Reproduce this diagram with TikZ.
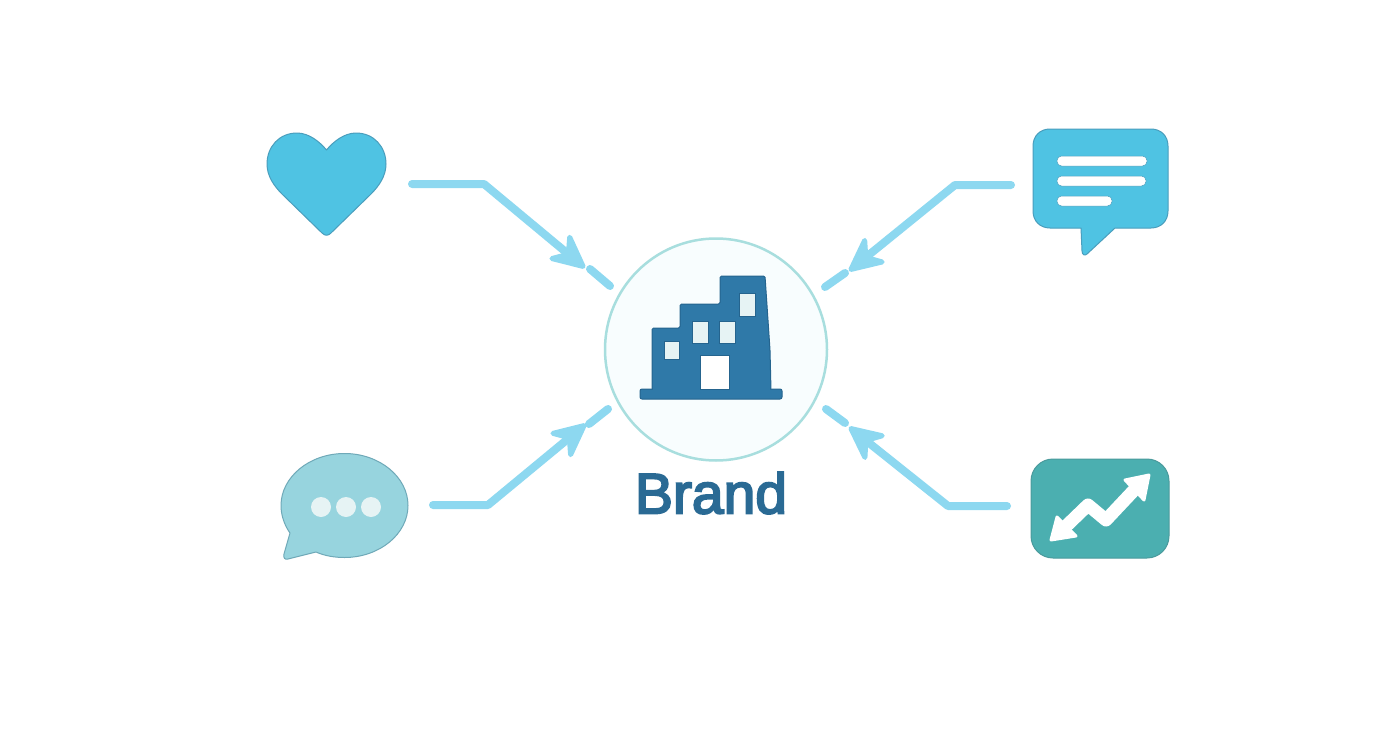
\documentclass[tikz,border=0pt]{standalone}
\usepackage{fontspec}
\usepackage{tikz}
\usetikzlibrary{positioning,arrows.meta}
\newfontfamily\brandfont{Liberation Sans}[FakeBold=3.5]

\definecolor{linkblue}{HTML}{8DD8F0}
\definecolor{skyfill}{HTML}{4FC3E3}
\definecolor{skyedge}{HTML}{4A9EBD}
\definecolor{tealfill}{HTML}{4BAFB0}
\definecolor{tealedge}{HTML}{4A9A9C}
\definecolor{palefill}{HTML}{97D4DE}
\definecolor{paleedge}{HTML}{6FA9B8}
\definecolor{ringedge}{HTML}{A8DEDE}
\definecolor{ringfill}{HTML}{F8FDFE}
\definecolor{blockfill}{HTML}{2F79A8}
\definecolor{blockedge}{HTML}{25648E}
\definecolor{panefill}{HTML}{E6F3F4}
\definecolor{brandtext}{HTML}{2A6A94}

\tikzset{
  iconspot/.style={inner sep=0pt,outer sep=0pt,minimum height=100pt},
  link/.style={draw=linkblue,line width=8pt,line cap=round,line join=round},
  linktip/.style={link,-{Stealth[length=42pt,width=40pt,inset=14pt,round,line width=5pt]}},
  skyicon/.style={fill=skyfill,draw=skyedge,line width=1pt,line join=round},
  pane/.style={fill=panefill,draw=blockedge,line width=0.7pt},
  bar/.style={fill=white,draw=skyedge,line width=0.5pt,rounded corners=4.5pt},
  dot/.style={circle,fill=panefill,inner sep=0pt,minimum size=20pt},
}

\begin{document}
\begin{tikzpicture}[x=1pt,y=-1pt]

  \useasboundingbox[fill=white] (0,0) rectangle (1392,752);

  \node[circle,draw=ringedge,fill=ringfill,line width=2.5pt,inner sep=0pt,minimum size=222pt] (brand) at (716,349.5) {};
  \node[text=brandtext,inner sep=0pt] (name) at (711,493) {\brandfont\fontsize{57}{60}\selectfont Brand};

  \node[iconspot,minimum width=172pt] (heart) at (326,184) {};
  \node[iconspot,minimum width=180pt] (note) at (1101,185) {};
  \node[iconspot,minimum width=176pt] (bubble) at (345,505) {};
  \node[iconspot,minimum width=186pt] (growth) at (1100,506) {};

  % building
  \draw[fill=blockfill,draw=blockedge,line width=1pt,rounded corners=1.5pt] (652,391) -- (652,328) -- (680,328) -- (680,304) -- (720,304) -- (720,276) -- (765,276) -- (770,350) -- (771,391) -- cycle;
  \draw[fill=blockfill,draw=blockedge,line width=1pt,rounded corners=2pt] (640,389) rectangle (782,399);
  \fill[blockfill] (653,386) rectangle (770,392);
  \draw[pane] (664,341) rectangle (679,359);
  \draw[pane] (692,321) rectangle (708,343);
  \draw[pane] (719,321) rectangle (735,343);
  \draw[pane] (739,293) rectangle (755,316);
  \draw[fill=white,draw=blockedge,line width=0.7pt] (700,389) -- (700,355) -- (729,355) -- (729,389) -- cycle;

  % heart
  \draw[skyicon] (326.5,150) .. controls (320,142) and (309,133) .. (297,133) .. controls (279,133) and (267,147) .. (267,164) .. controls (267,176) and (274,186) .. (282,194) -- (322,233) .. controls (325,236) and (328,236) .. (331,233) -- (371,194) .. controls (379,186) and (386,176) .. (386,164) .. controls (386,147) and (374,133) .. (356,133) .. controls (344,133) and (333,142) .. (326.5,150) -- cycle;

  % note
  \draw[skyicon] (1050,129) -- (1151,129) .. controls (1161,129) and (1168,136) .. (1168,146) -- (1168,211) .. controls (1168,221) and (1161,228) .. (1151,228) -- (1115,228) -- (1087,254) .. controls (1085,256) and (1082,255) .. (1082,251) -- (1081,228) -- (1050,228) .. controls (1040,228) and (1033,221) .. (1033,211) -- (1033,146) .. controls (1033,136) and (1040,129) .. (1050,129) -- cycle;
  \draw[bar] (1057,156) rectangle (1147,166);
  \draw[bar] (1057,176) rectangle (1146,186);
  \draw[bar] (1057,196) rectangle (1112,206);

  % bubble
  \draw[fill=palefill,draw=paleedge,line width=1pt,line join=round] (316,552) .. controls (325,556) and (335,557.5) .. (344.5,557.5) .. controls (379.5,557.5) and (408,534) .. (408,505.5) .. controls (408,477) and (379.5,453.5) .. (344.5,453.5) .. controls (309.5,453.5) and (281,477) .. (281,505.5) .. controls (281,516) and (285,526) .. (290,533) -- (284,554) .. controls (283,558) and (285,560) .. (288,559) -- cycle;
  \node[dot] (dot1) at (321,507) {};
  \node[dot] (dot2) at (346,507) {};
  \node[dot] (dot3) at (371,507) {};

  % growth
  \draw[fill=tealfill,draw=tealedge,line width=1pt,rounded corners=22pt] (1031,459) rectangle (1169,558);
  \draw[white,line width=13pt,line join=round] (1060,532) -- (1088,505) -- (1106,520) -- (1137,487);
  \fill[white,draw=white,line width=3pt,line join=round] (1149,475) -- (1125,480) -- (1144,500) -- cycle;
  \fill[white,draw=white,line width=3pt,line join=round] (1051,540) -- (1057,517) -- (1076,536) -- cycle;

  % links
  \coordinate (heartbend) at (484,184);
  \coordinate (hearttip) at (585,268);
  \coordinate (heartdash) at (590,269);
  \coordinate (heartend) at (610,286);
  \coordinate (notebend) at (955,185);
  \coordinate (notetip) at (849,271);
  \coordinate (notedash) at (845,273);
  \coordinate (noteend) at (825,287);
  \coordinate (bubblebend) at (488,505);
  \coordinate (bubbletip) at (586,424);
  \coordinate (bubbledash) at (589,424);
  \coordinate (bubbleend) at (608,409);
  \coordinate (growthbend) at (948,506);
  \coordinate (growthtip) at (849,427);
  \coordinate (growthdash) at (845,423);
  \coordinate (growthend) at (826,409);

  \draw[linktip] (heart.east) -- (heartbend) -- (hearttip);
  \draw[linktip] (note.west) -- (notebend) -- (notetip);
  \draw[linktip] (bubble.east) -- (bubblebend) -- (bubbletip);
  \draw[linktip] (growth.west) -- (growthbend) -- (growthtip);
  \draw[link] (heartdash) -- (heartend);
  \draw[link] (notedash) -- (noteend);
  \draw[link] (bubbledash) -- (bubbleend);
  \draw[link] (growthdash) -- (growthend);

\end{tikzpicture}
\end{document}
